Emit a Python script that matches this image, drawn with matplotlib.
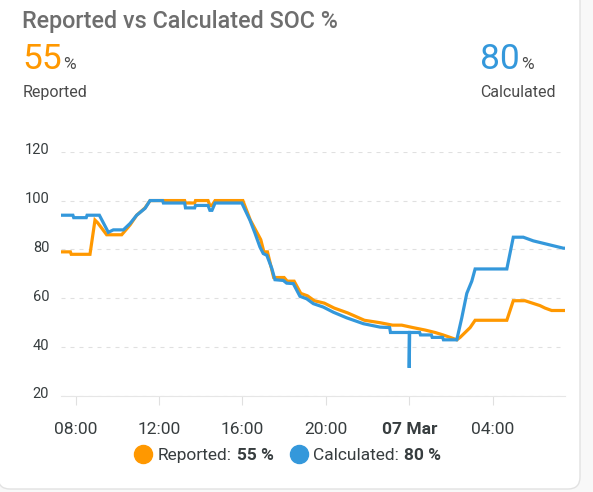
import matplotlib
matplotlib.use("Agg")
import matplotlib.pyplot as plt
from matplotlib.patches import FancyBboxPatch
from matplotlib.lines import Line2D
from matplotlib.transforms import IdentityTransform, ScaledTranslation

plt.rcParams['font.family'] = ['Roboto', 'DejaVu Sans']

# time in hours since 00:00 on 06 Mar (values above 24 are on 07 Mar)
reported_hours = [7.30, 7.75, 7.79, 8.69, 8.93, 9.05, 9.49, 10.21, 10.61, 10.93, 11.33, 11.57,
                  12.19, 13.23, 13.27, 13.71, 13.75, 14.35, 14.44, 14.54, 14.69, 16.02, 16.38,
                  16.88, 17.03, 17.20, 17.50, 18.00, 18.15, 18.48, 18.80, 19.12, 19.45, 19.93,
                  20.40, 21.05, 21.85, 22.60, 23.20, 23.64, 24.18, 24.76, 25.24, 25.62, 25.96,
                  26.28, 26.44, 26.68, 26.92, 27.16, 28.68, 28.99, 29.55, 30.27, 30.51, 30.83,
                  31.47]
reported_soc = [79, 79, 78, 78, 92, 91, 86, 86, 90, 94, 97, 100,
                100, 100, 99, 99, 100, 100, 98, 98, 100, 100, 92,
                84, 79, 79, 68.5, 68.5, 67, 67, 62, 61, 59, 58,
                56, 54, 51, 50, 49, 49, 48, 47, 46, 45, 44,
                43, 44, 46, 48, 51, 51, 59, 59, 57, 56, 55,
                55]

calculated_hours = [7.30, 7.87, 7.91, 8.51, 8.55, 9.14, 9.57, 9.81, 10.29, 10.61, 10.93, 11.33,
                    11.57, 12.17, 12.21, 13.23, 13.27, 13.71, 13.75, 14.35, 14.44, 14.54, 14.69,
                    15.97, 16.36, 16.60, 16.84, 17.00, 17.17, 17.41, 17.56, 17.96, 18.12, 18.44,
                    18.76, 19.08, 19.40, 19.88, 20.36, 21.00, 21.80, 22.60, 23.06, 23.10, 24.00,
                    24.00, 24.02, 24.50, 24.54, 25.06, 25.10, 25.60, 25.64, 26.28, 26.52, 26.76,
                    27.00, 27.16, 28.68, 28.99, 29.47, 29.95, 30.43, 30.91, 31.39, 31.47]
calculated_soc = [94, 94, 93, 93, 94, 94, 87, 88, 88, 90.6, 94, 96.8,
                  100, 100, 99, 99, 97, 97, 98, 98, 96, 96, 99,
                  99, 92, 86.7, 81, 78.3, 77.6, 72.2, 67.6, 67.3, 66.2, 66,
                  60.8, 59.8, 57.8, 56.4, 54.3, 52, 49.6, 48.2, 48, 46, 46,
                  31.5, 46, 46, 45, 45, 44, 44, 43, 43, 52, 62,
                  67, 72, 72, 85, 85, 83.5, 82.5, 81.5, 80.5, 80.5]

tick_hours = [8, 12, 16, 20, 24, 28]
tick_labels = ["08:00", "12:00", "16:00", "20:00", "07 Mar", "04:00"]
y_ticks = [20, 40, 60, 80, 100, 120]

reported_now = 55
calculated_now = 80

ORANGE = '#ff9800'
BLUE = '#3498db'
W, H = 593, 492

fig = plt.figure(figsize=(W / 100, H / 100), dpi=100, facecolor='#f8f8f8')
renderer = fig.canvas.get_renderer()


def px(x, y):
    # pixel position (from top left) to figure fraction
    return x / W, 1 - y / H


def text_after(prev, s, gap=0, **kw):
    bb = prev.get_window_extent(renderer)
    return fig.text((bb.x1 + gap) / W, prev.get_position()[1], s, va='baseline', **kw)


# card background
card = FancyBboxPatch((-2, H - 489), 582, 500, boxstyle='round,pad=0,rounding_size=12',
                      transform=IdentityTransform(), facecolor='white', edgecolor='#e2e2e2',
                      linewidth=1, zorder=-10)
fig.add_artist(card)

# header
fig.text(*px(22.5, 28), "Reported vs Calculated SOC %", fontsize=16.8, fontweight='medium',
         color='#6e6e6e', va='baseline')
t = fig.text(*px(22.5, 69), str(reported_now), fontsize=25.5, color=ORANGE, va='baseline')
text_after(t, "%", gap=1, fontsize=12.5, color='#4a4a4a')
fig.text(*px(22.5, 97), "Reported", fontsize=11.5, color='#4a4a4a', va='baseline')
t = fig.text(*px(480, 69), str(calculated_now), fontsize=25.5, color=BLUE, va='baseline')
text_after(t, "%", gap=1, fontsize=12.5, color='#4a4a4a')
fig.text(*px(480, 97), "Calculated", fontsize=11.5, color='#4a4a4a', va='baseline')

# chart
ax = fig.add_axes([61 / W, 1 - 396 / H, (565 - 61) / W, (396 - 151.7) / H])
ax.set_facecolor('none')
for v in y_ticks:
    ax.axhline(v, color='#e0e0e0', lw=0.8, dashes=(3.6, 4.5), zorder=0)
ax.plot(reported_hours, reported_soc, color=ORANGE, lw=2.3, solid_joinstyle='miter')
ax.plot(calculated_hours, calculated_soc, color=BLUE, lw=2.3, solid_joinstyle='miter')

ax.set_xlim(7.30, 31.47)
ax.set_ylim(20, 120)
ax.set_yticks(y_ticks)
ax.set_xticks(tick_hours)
ax.set_xticklabels(tick_labels)
ax.get_xticklabels()[4].set_fontweight('bold')

for side in ['top', 'left', 'right']:
    ax.spines[side].set_visible(False)
ax.spines['bottom'].set_color('#e6e6e6')
ax.tick_params(axis='x', length=6.5, width=0.8, color='#e0e0e0', labelcolor='#373d3f',
               labelsize=12.5, pad=12)
ax.tick_params(axis='y', length=0, labelcolor='#373d3f', labelsize=10.5, pad=8.5)
for lab in ax.get_yticklabels():
    lab.set_transform(lab.get_transform() + ScaledTranslation(0, 0.03, fig.dpi_scale_trans))

# legend
x, y = px(143, 454)
fig.add_artist(Line2D([x], [y], marker='o', ms=13, color=ORANGE, transform=fig.transFigure))
t = fig.text(*px(158, 460), "Reported:", fontsize=12.5, color='#373d3f', va='baseline')
t = text_after(t, f"{reported_now} %", gap=5, fontsize=12.5, fontweight='bold', color='#373d3f')
bb = t.get_window_extent(renderer)
cx = bb.x1 + 25
fig.add_artist(Line2D([cx / W], [y], marker='o', ms=13, color=BLUE, transform=fig.transFigure))
t = fig.text((cx + 14) / W, 1 - 460 / H, "Calculated:", fontsize=12.5, color='#373d3f',
             va='baseline')
text_after(t, f"{calculated_now} %", gap=5, fontsize=12.5, fontweight='bold', color='#373d3f')

fig.savefig('out.png', dpi=100, facecolor=fig.get_facecolor())
